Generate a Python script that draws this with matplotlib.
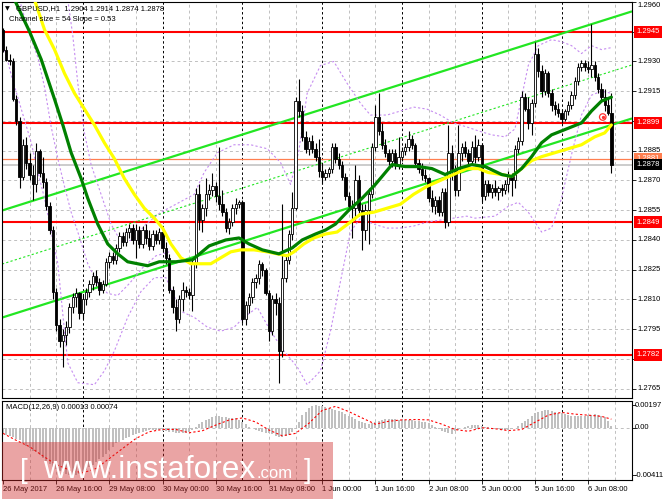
import numpy as np
import matplotlib
matplotlib.use("Agg")
import matplotlib.pyplot as plt
import matplotlib.transforms as mtrans
from matplotlib.patches import Rectangle

# ---------------- data ----------------
symbol_title = "GBPUSD,H1"
ohlc_title = ["1.2904", "1.2914", "1.2874", "1.2878"]
channel_title = "Channel size = 54 Slope = 0.53"
macd_title = "MACD(12,26,9) 0.00013 0.00074"

open_ = [1.2946, 1.2936, 1.2931, 1.2930, 1.2911, 1.2900, 1.2872, 1.2888, 1.2879, 1.2873,
         1.2868, 1.2885, 1.2874, 1.2869, 1.2857, 1.2845, 1.2814, 1.2797, 1.2789, 1.2792,
         1.2796, 1.2806, 1.2811, 1.2813, 1.2803, 1.2810, 1.2814, 1.2818, 1.2822, 1.2819,
         1.2815, 1.2818, 1.2829, 1.2832, 1.2830, 1.2836, 1.2842, 1.2839, 1.2844, 1.2846,
         1.2840, 1.2845, 1.2838, 1.2845, 1.2841, 1.2837, 1.2843, 1.2840, 1.2844, 1.2836,
         1.2831, 1.2815, 1.2806, 1.2800, 1.2810, 1.2815, 1.2814, 1.2812, 1.2828, 1.2863,
         1.2850, 1.2856, 1.2863, 1.2865, 1.2867, 1.2862, 1.2858, 1.2854, 1.2846, 1.2849,
         1.2856, 1.2858, 1.2859, 1.2800, 1.2807, 1.2811, 1.2819, 1.2821, 1.2828, 1.2825,
         1.2813, 1.2794, 1.2810, 1.2808, 1.2784, 1.2821, 1.2830, 1.2843, 1.2856, 1.2910,
         1.2905, 1.2892, 1.2886, 1.2890, 1.2886, 1.2882, 1.2875, 1.2872, 1.2874, 1.2876,
         1.2887, 1.2881, 1.2878, 1.2872, 1.2862, 1.2857, 1.2856, 1.2870, 1.2855, 1.2845,
         1.2855, 1.2863, 1.2887, 1.2902, 1.2895, 1.2888, 1.2884, 1.2880, 1.2884, 1.2878,
         1.2882, 1.2885, 1.2887, 1.2891, 1.2888, 1.2879, 1.2876, 1.2873, 1.2871, 1.2861,
         1.2857, 1.2860, 1.2854, 1.2864, 1.2849, 1.2884, 1.2876, 1.2865, 1.2884, 1.2887,
         1.2884, 1.2880, 1.2887, 1.2882, 1.2888, 1.2862, 1.2868, 1.2864, 1.2866, 1.2864,
         1.2866, 1.2865, 1.2868, 1.2873, 1.2870, 1.2886, 1.2890, 1.2912, 1.2906, 1.2899,
         1.2909, 1.2934, 1.2925, 1.2915, 1.2924, 1.2914, 1.2908, 1.2906, 1.2904, 1.2901,
         1.2905, 1.2908, 1.2913, 1.2920, 1.2927, 1.2929, 1.2927, 1.2926, 1.2928, 1.2922,
         1.2916, 1.2912, 1.2908, 1.2904]

high = [1.2947, 1.2938, 1.2934, 1.2932, 1.2913, 1.2902, 1.2891, 1.2892, 1.2884, 1.2878,
        1.2889, 1.2886, 1.2882, 1.2871, 1.2859, 1.2847, 1.2816, 1.2800, 1.2795, 1.2799,
        1.2808, 1.2813, 1.2816, 1.2814, 1.2812, 1.2816, 1.2820, 1.2824, 1.2825, 1.2821,
        1.2820, 1.2831, 1.2834, 1.2834, 1.2838, 1.2844, 1.2844, 1.2846, 1.2848, 1.2848,
        1.2848, 1.2847, 1.2847, 1.2848, 1.2845, 1.2845, 1.2845, 1.2846, 1.2845, 1.2839,
        1.2833, 1.2817, 1.2810, 1.2812, 1.2819, 1.2817, 1.2816, 1.2830, 1.2866, 1.2868,
        1.2858, 1.2871, 1.2868, 1.2874, 1.2869, 1.2887, 1.2865, 1.2856, 1.2851, 1.2858,
        1.2861, 1.2860, 1.2860, 1.2809, 1.2813, 1.2821, 1.2823, 1.2830, 1.2829, 1.2826,
        1.2815, 1.2812, 1.2813, 1.2811, 1.2858, 1.2833, 1.2845, 1.2864, 1.2912, 1.2921,
        1.2908, 1.2895, 1.2892, 1.2893, 1.2889, 1.2891, 1.2879, 1.2876, 1.2877, 1.2889,
        1.2889, 1.2884, 1.2880, 1.2874, 1.2864, 1.2860, 1.2878, 1.2873, 1.2858, 1.2858,
        1.2866, 1.2889, 1.2908, 1.2914, 1.2899, 1.2891, 1.2886, 1.2886, 1.2886, 1.2892,
        1.2887, 1.2889, 1.2895, 1.2893, 1.2889, 1.2881, 1.2879, 1.2876, 1.2872, 1.2865,
        1.2862, 1.2862, 1.2866, 1.2866, 1.2898, 1.2888, 1.2878, 1.2898, 1.2889, 1.2890,
        1.2886, 1.2890, 1.2893, 1.2891, 1.2889, 1.2870, 1.2870, 1.2868, 1.2870, 1.2867,
        1.2868, 1.2870, 1.2875, 1.2874, 1.2888, 1.2892, 1.2915, 1.2914, 1.2912, 1.2911,
        1.2940, 1.2937, 1.2928, 1.2926, 1.2925, 1.2916, 1.2910, 1.2909, 1.2906, 1.2906,
        1.2910, 1.2915, 1.2922, 1.2929, 1.2931, 1.2931, 1.2930, 1.2949, 1.2930, 1.2924,
        1.2919, 1.2916, 1.2912, 1.2914]

low = [1.2935, 1.2930, 1.2928, 1.2910, 1.2898, 1.2866, 1.2870, 1.2876, 1.2870, 1.2860,
       1.2864, 1.2872, 1.2866, 1.2855, 1.2843, 1.2810, 1.2794, 1.2786, 1.2776, 1.2787,
       1.2793, 1.2803, 1.2806, 1.2800, 1.2800, 1.2807, 1.2811, 1.2815, 1.2817, 1.2812,
       1.2813, 1.2817, 1.2826, 1.2828, 1.2828, 1.2834, 1.2837, 1.2837, 1.2841, 1.2838,
       1.2831, 1.2836, 1.2836, 1.2838, 1.2835, 1.2835, 1.2838, 1.2838, 1.2834, 1.2828,
       1.2813, 1.2803, 1.2794, 1.2798, 1.2804, 1.2811, 1.2810, 1.2804, 1.2826, 1.2845,
       1.2844, 1.2852, 1.2860, 1.2862, 1.2859, 1.2855, 1.2852, 1.2844, 1.2843, 1.2847,
       1.2853, 1.2856, 1.2798, 1.2797, 1.2803, 1.2808, 1.2816, 1.2818, 1.2822, 1.2812,
       1.2789, 1.2792, 1.2802, 1.2768, 1.2781, 1.2819, 1.2828, 1.2840, 1.2855, 1.2902,
       1.2890, 1.2884, 1.2883, 1.2884, 1.2880, 1.2872, 1.2868, 1.2870, 1.2872, 1.2874,
       1.2879, 1.2876, 1.2870, 1.2860, 1.2855, 1.2841, 1.2850, 1.2852, 1.2835, 1.2840,
       1.2838, 1.2861, 1.2885, 1.2893, 1.2886, 1.2882, 1.2878, 1.2877, 1.2876, 1.2876,
       1.2880, 1.2883, 1.2885, 1.2886, 1.2877, 1.2874, 1.2870, 1.2869, 1.2859, 1.2854,
       1.2853, 1.2852, 1.2852, 1.2846, 1.2847, 1.2870, 1.2862, 1.2862, 1.2880, 1.2882,
       1.2878, 1.2878, 1.2879, 1.2880, 1.2859, 1.2860, 1.2862, 1.2861, 1.2862, 1.2860,
       1.2862, 1.2863, 1.2864, 1.2862, 1.2866, 1.2884, 1.2888, 1.2905, 1.2896, 1.2893,
       1.2907, 1.2922, 1.2912, 1.2913, 1.2912, 1.2905, 1.2903, 1.2902, 1.2899, 1.2900,
       1.2903, 1.2906, 1.2911, 1.2918, 1.2925, 1.2925, 1.2924, 1.2922, 1.2920, 1.2914,
       1.2910, 1.2905, 1.2903, 1.2874]

close = [1.2936, 1.2931, 1.2930, 1.2911, 1.2900, 1.2872, 1.2888, 1.2879, 1.2873, 1.2868,
         1.2885, 1.2874, 1.2869, 1.2857, 1.2845, 1.2814, 1.2797, 1.2789, 1.2792, 1.2796,
         1.2806, 1.2811, 1.2813, 1.2803, 1.2810, 1.2814, 1.2818, 1.2822, 1.2819, 1.2815,
         1.2818, 1.2829, 1.2832, 1.2830, 1.2836, 1.2842, 1.2839, 1.2844, 1.2846, 1.2840,
         1.2845, 1.2838, 1.2845, 1.2841, 1.2837, 1.2843, 1.2840, 1.2844, 1.2836, 1.2831,
         1.2815, 1.2806, 1.2800, 1.2810, 1.2815, 1.2814, 1.2812, 1.2828, 1.2863, 1.2850,
         1.2856, 1.2863, 1.2865, 1.2867, 1.2862, 1.2858, 1.2854, 1.2846, 1.2849, 1.2856,
         1.2858, 1.2859, 1.2800, 1.2807, 1.2811, 1.2819, 1.2821, 1.2828, 1.2825, 1.2813,
         1.2794, 1.2810, 1.2808, 1.2784, 1.2821, 1.2830, 1.2843, 1.2856, 1.2910, 1.2905,
         1.2892, 1.2886, 1.2890, 1.2886, 1.2882, 1.2875, 1.2872, 1.2874, 1.2876, 1.2887,
         1.2881, 1.2878, 1.2872, 1.2862, 1.2857, 1.2856, 1.2870, 1.2855, 1.2845, 1.2855,
         1.2863, 1.2887, 1.2902, 1.2895, 1.2888, 1.2884, 1.2880, 1.2884, 1.2878, 1.2882,
         1.2885, 1.2887, 1.2891, 1.2888, 1.2879, 1.2876, 1.2873, 1.2871, 1.2861, 1.2857,
         1.2860, 1.2854, 1.2864, 1.2849, 1.2884, 1.2876, 1.2865, 1.2884, 1.2887, 1.2884,
         1.2880, 1.2887, 1.2882, 1.2888, 1.2862, 1.2868, 1.2864, 1.2866, 1.2864, 1.2866,
         1.2865, 1.2868, 1.2873, 1.2870, 1.2886, 1.2890, 1.2912, 1.2906, 1.2899, 1.2909,
         1.2934, 1.2925, 1.2915, 1.2924, 1.2914, 1.2908, 1.2906, 1.2904, 1.2901, 1.2905,
         1.2908, 1.2913, 1.2920, 1.2927, 1.2929, 1.2927, 1.2926, 1.2928, 1.2922, 1.2916,
         1.2912, 1.2908, 1.2904, 1.2878]

# moving averages (bar position, value)
ma_fast_x = [3.5, 8, 11.5, 15.5, 18, 20.5, 23.5, 25.5, 28.5, 31.5, 34.5, 37.5, 40.5, 43.5, 47,
             52, 57, 62, 67, 71, 74, 78, 83, 87, 90, 94, 97, 100, 104, 108, 112, 115, 117,
             121, 125, 129, 133, 137, 141, 145, 150, 153, 156, 159, 162, 165, 168, 171, 174,
             177, 180, 183]
ma_fast_y = [1.2961, 1.2945, 1.2931, 1.2911, 1.2898, 1.2884, 1.2871, 1.2861, 1.2848, 1.2838,
             1.2833, 1.2829, 1.2828, 1.2827, 1.2829, 1.2829, 1.2830, 1.2837, 1.2840, 1.2841,
             1.2838, 1.2835, 1.2833, 1.2836, 1.2840, 1.2843, 1.2845, 1.2848, 1.2855, 1.2861,
             1.2868, 1.2874, 1.2878, 1.2877, 1.2877, 1.2876, 1.2873, 1.2876, 1.2878, 1.2877,
             1.2873, 1.2872, 1.2876, 1.2882, 1.2889, 1.2893, 1.2895, 1.2897, 1.2899, 1.2905,
             1.2910, 1.2912]
ma_slow_x = [9.5, 12.5, 15.5, 18.5, 21.5, 24.5, 27.5, 30.5, 33.5, 36.5, 39.5, 42.5, 45.5, 48,
             50.5, 53.5, 56.5, 59.5, 62.5, 65.5, 68.5, 71.5, 75.5, 79.5, 82.5, 85.5, 87.5, 90.5,
             93.5, 97, 100.5, 104.5, 107.5, 111.5, 115.5, 119.5, 123.5, 127.5, 131.5, 135.5,
             139.5, 143, 146, 150, 153, 156, 159, 162, 166, 170, 174, 178, 181, 183]
ma_slow_y = [1.2961, 1.2946, 1.2936, 1.2924, 1.2914, 1.2906, 1.2898, 1.2889, 1.2881, 1.2871,
             1.2863, 1.2856, 1.2851, 1.2846, 1.2838, 1.2831, 1.2828, 1.2828, 1.2828, 1.2831,
             1.2834, 1.2835, 1.2835, 1.2834, 1.2833, 1.2832, 1.2834, 1.2838, 1.2841, 1.2843,
             1.2844, 1.2849, 1.2853, 1.2854, 1.2856, 1.2858, 1.2863, 1.2867, 1.2870, 1.2873,
             1.2876, 1.2876, 1.2874, 1.2873, 1.2872, 1.2876, 1.2880, 1.2882, 1.2884, 1.2886,
             1.2888, 1.2892, 1.2894, 1.2898]

# Bollinger bands (purple dotted)
bb_up_x = [19.5, 21, 22.5, 24.5, 26.5, 28.5, 30.5, 32.5, 35.5, 39, 43, 47.5, 52, 57.5, 60.5,
           64.5, 69.5, 74.5, 79.5, 83.5, 86.5, 89, 91.5, 95.5, 99.5, 103.5, 107.5, 110.5,
           115.5, 119.5, 123.5, 127.5, 131.5, 135.5, 139.5, 143, 147, 151, 154, 156, 158,
           161, 165, 168, 171, 174, 177, 180, 183]
bb_up_y = [1.2961, 1.2943, 1.2919, 1.2894, 1.2878, 1.2868, 1.2858, 1.2848, 1.2839, 1.2840,
           1.2848, 1.2854, 1.2858, 1.2863, 1.2874, 1.2884, 1.2888, 1.2888, 1.2886, 1.2879,
           1.2868, 1.2885, 1.2914, 1.2928, 1.2930, 1.2919, 1.2909, 1.2903, 1.2903, 1.2905,
           1.2907, 1.2906, 1.2903, 1.2899, 1.2897, 1.2895, 1.2893, 1.2892, 1.2896, 1.2912,
           1.2928, 1.2938, 1.2941, 1.2940, 1.2938, 1.2934, 1.2938, 1.2936, 1.2937]
bb_mid_x = [5, 7.5, 10.5, 12.5, 14.5, 16.5, 18.5, 20.5, 22.5, 25.5, 28.5, 31.5, 34.5, 38, 42,
            46, 50]
bb_mid_y = [1.2961, 1.2946, 1.2932, 1.2917, 1.2897, 1.2881, 1.2867, 1.2854, 1.2844, 1.2828,
            1.2818, 1.2813, 1.2812, 1.2818, 1.2826, 1.2832, 1.2834]
bb_lo_x = [0, 1, 2.5, 5.5, 8.5, 10.5, 12.5, 14.5, 16.5, 17.5, 18.5, 19.5, 22.5, 27.5, 30.5,
           33.5, 37.5, 41.5, 45.5, 49, 53.5, 57.5, 61.5, 65.5, 69.5, 72.5, 76.5, 80.5, 84.5,
           88.5, 91.5, 95.5, 98.5, 101.5, 104.5, 107.5, 111.5, 115.5, 119.5, 123.5, 127.5,
           131.5, 135.5, 139.5, 142, 148, 152, 155, 158, 162, 165, 168, 171, 174, 177, 180, 183]
bb_lo_y = [1.2938, 1.2933, 1.2923, 1.2906, 1.2889, 1.2874, 1.2861, 1.2844, 1.2828, 1.2811,
           1.2794, 1.2778, 1.2768, 1.2767, 1.2774, 1.2784, 1.2801, 1.2814, 1.2821, 1.2821,
           1.2804, 1.2801, 1.2796, 1.2794, 1.2796, 1.2801, 1.2806, 1.2794, 1.2784, 1.2776,
           1.2767, 1.2774, 1.2794, 1.2819, 1.2844, 1.2851, 1.2848, 1.2846, 1.2846, 1.2847,
           1.2849, 1.2850, 1.2851, 1.2852, 1.2851, 1.2852, 1.2857, 1.2859, 1.2854, 1.2844,
           1.2846, 1.2861, 1.2883, 1.2903, 1.2913, 1.2915, 1.2914]

# regression channel
chan_upper_start = 1.2855   # upper line at bar 0
chan_slope = 0.000053       # per bar
chan_size = 0.0054

# horizontal levels
red_levels = [1.2945, 1.2899, 1.2849, 1.2782]
ask_price = 1.2881
bid_price = 1.2878
price_grid = [1.2960, 1.2945, 1.2930, 1.2915, 1.2900, 1.2885, 1.2870, 1.2855,
              1.2840, 1.2825, 1.2810, 1.2795, 1.2780, 1.2765]
price_labels_shown = [1.2960, 1.2930, 1.2915, 1.2885, 1.2870, 1.2855,
                      1.2840, 1.2825, 1.2810, 1.2795, 1.2765]
alert_x = [180.4]
alert_y = [1.2902]

# MACD (units of 1e-5)
macd_hist = [-50, -60, -70, -80, -95, -107, -130, -155, -180, -200,
             -215, -240, -265, -290, -315, -340, -362, -380, -395, -405,
             -410, -411, -408, -398, -383, -365, -345, -320, -295, -272,
             -252, -225, -195, -165, -136, -120, -105, -92, -78, -65,
             -55, -45, -35, -28, -22, -20, -20, -22, -25, -30,
             -35, -40, -45, -49, -49, -45, -35, -20, 5, 30,
             52, 65, 80, 96, 100, 98, 96, 92, 88, 85,
             81, 68, 52, 30, 9, -5, -20, -30, -40, -45,
             -49, -58, -68, -78, -80, -72, -64, -40, -6, 50,
             110, 140, 168, 185, 197, 192, 186, 180, 167, 160,
             155, 148, 140, 122, 105, 90, 78, 62, 47, 38,
             31, 38, 47, 60, 71, 75, 78, 75, 72, 70,
             68, 66, 65, 63, 62, 58, 53, 47, 40, 22,
             6, -10, -25, -38, -50, -56, -31, -18, -6, 5,
             15, 20, 25, 20, 15, 10, 6, 0, -6, -11,
             -16, -16, -16, -8, 0, 18, 37, 58, 78, 100,
             124, 135, 143, 150, 155, 148, 140, 132, 124, 116,
             109, 104, 99, 99, 99, 104, 109, 112, 115, 110,
             105, 93, 62, 13]
sig_x = [0, 4, 8, 12, 16, 20, 24, 28, 32, 36, 40, 44, 48, 52, 56, 60, 64, 68, 72, 76, 80, 84,
         88, 92, 96, 100, 104, 108, 112, 116, 120, 124, 128, 132, 136, 140, 144, 148, 152,
         156, 160, 164, 168, 172, 176, 180, 183]
sig_y = [-49, -110, -165, -245, -320, -368, -392, -354, -267, -180, -93, -35, -15, -15, -44,
         -26, 23, 67, 85, 50, -20, -70, -49, 38, 150, 185, 140, 85, 31, 56, 68, 71, 68, 31,
         -16, -31, 0, -9, -25, -16, 47, 109, 133, 118, 109, 99, 74]
macd_levels = [0.00197, 0.0, -0.00411]
macd_level_labels = ["0.00197", "0.00", "-0.00411"]

time_ticks = [0, 16, 32, 48, 64, 80, 96, 112, 128, 144, 160, 176]
time_labels = ["26 May 2017", "26 May 16:00", "29 May 08:00", "30 May 00:00",
               "30 May 16:00", "31 May 08:00", "1 Jun 00:00", "1 Jun 16:00",
               "2 Jun 08:00", "5 Jun 00:00", "5 Jun 16:00", "6 Jun 08:00"]
day_separators = [24, 48, 72, 96, 120, 144, 168]

# ---------------- figure ----------------
W, H = 665, 499
fig = plt.figure(figsize=(W / 100, H / 100), dpi=100)
fig.patch.set_facecolor("white")
FONT = ["Liberation Sans", "DejaVu Sans"]
FS = 5.5


def fx(px):
    return px / W


def fy(py):
    return 1 - py / H


ax = fig.add_axes([fx(2), fy(398), 630 / W, 396 / H])
ax2 = fig.add_axes([fx(2), fy(480), 630 / W, 79 / H])

XL = (-0.3, 189.2)
for a in (ax, ax2):
    a.set_xlim(*XL)
    a.set_facecolor("white")
    for s in a.spines.values():
        s.set_color("black")
        s.set_linewidth(0.8)
ax.set_ylim(1.27603, 1.29600)
ax2.set_ylim(-0.00454, 0.00232)

GRID_C = "#c0c0c0"
n = len(close)
idx = np.arange(n)

# vertical grid + separators
for a in (ax, ax2):
    for b in range(8, 190, 8):
        if b in day_separators:
            a.axvline(b, color="black", lw=0.7, ls=(0, (2.5, 2.5)), zorder=0.6)
        else:
            a.axvline(b, color=GRID_C, lw=0.7, ls=(0, (3, 3)), zorder=0.5)
for lv in price_grid:
    ax.axhline(lv, color=GRID_C, lw=0.7, ls=(0, (3, 3)), zorder=0.5)
ax2.axhline(0, color=GRID_C, lw=0.7, ls=(0, (3, 3)), zorder=0.5)

# bid / ask lines and red levels
ax.axhline(bid_price, color="#c8c8c8", lw=1.3, zorder=1)
ax.axhline(ask_price, color="#ff7f50", lw=0.9, zorder=1.1)
for lv in red_levels:
    ax.axhline(lv, color="#ff0000", lw=1.5, zorder=1.5)

# regression channel
cx = np.array(XL)
up_line = chan_upper_start + chan_slope * cx
lo_line = up_line - chan_size
ax.plot(cx, up_line, color="#22e622", lw=1.6, zorder=2, solid_capstyle="butt")
ax.plot(cx, lo_line, color="#22e622", lw=1.6, zorder=2, solid_capstyle="butt")
ax.plot(cx, (up_line + lo_line) / 2, color="#22e622", lw=0.8, ls=(0, (2, 2)), zorder=2)

# Bollinger
BB_C = "#c58cf0"
for bx, by in ((bb_up_x, bb_up_y), (bb_mid_x, bb_mid_y), (bb_lo_x, bb_lo_y)):
    ax.plot(bx, by, color=BB_C, lw=0.8, ls=(0, (2, 2)), zorder=2.5)

# candles
o = np.array(open_)
c = np.array(close)
hi = np.array(high)
lo = np.array(low)
bull = c >= o
ax.vlines(idx, lo, hi, color="black", lw=0.8, zorder=3)
body_lo = np.minimum(o, c)
body_h = np.maximum(np.abs(c - o), 0.00003)
ax.bar(idx[bull], body_h[bull], bottom=body_lo[bull], width=0.7, color="white",
       edgecolor="black", linewidth=0.6, zorder=4)
ax.bar(idx[~bull], body_h[~bull], bottom=body_lo[~bull], width=0.7, color="black",
       edgecolor="black", linewidth=0.6, zorder=4)

# moving averages
ax.plot(ma_slow_x, ma_slow_y, color="#ffff00", lw=2.3, zorder=5, solid_capstyle="round")
ax.plot(ma_fast_x, ma_fast_y, color="#008000", lw=2.3, zorder=5.1, solid_capstyle="round")

# alert marker
ax.scatter(alert_x, alert_y, s=22, facecolors="none", edgecolors="#ff3030", linewidths=0.9,
           zorder=6)
ax.scatter(alert_x, alert_y, s=2, color="#ff3030", zorder=6)

# ticks
for a in (ax, ax2):
    a.yaxis.tick_right()
    a.tick_params(axis="y", length=3, width=0.6, labelright=False, labelleft=False)
ax.set_yticks(price_grid)
ax2.set_yticks(macd_levels)
ax.set_xticks([])
ax2.set_xticks(time_ticks)
ax2.tick_params(axis="x", length=3, width=0.6, labelbottom=False)

# right-axis labels (main)
tr = mtrans.blended_transform_factory(fig.transFigure, ax.transData)
for lv in price_labels_shown:
    va = "top" if lv == price_grid[0] else "center"
    ax.text(fx(637), lv, f"{lv:.4f}", transform=tr, fontsize=FS, family=FONT,
            va=va, ha="left", clip_on=False, zorder=10)


def box_label(value, fc, tc="white", z=11):
    ax.text(fx(636), value, f"{value:.4f}", transform=tr, fontsize=FS, family=FONT,
            va="center", ha="left", color=tc, clip_on=False, zorder=z,
            bbox=dict(boxstyle="square,pad=0.3", fc=fc, ec="none"))


for lv in red_levels:
    box_label(lv, "#ff0000")
box_label(ask_price, "#ff7f50", z=11)
box_label(bid_price, "#000000", z=12)

# right-axis labels (MACD)
tr2 = mtrans.blended_transform_factory(fig.transFigure, ax2.transData)
for lv, lab in zip(macd_levels, macd_level_labels):
    ax2.text(fx(635), lv, lab, transform=tr2, fontsize=FS, family=FONT, va="center",
             ha="left", clip_on=False)

# time labels
trx = mtrans.blended_transform_factory(ax2.transData, fig.transFigure)
for t, lab in zip(time_ticks, time_labels):
    ax2.text(t, fy(489.5), lab, transform=trx, fontsize=FS, family=FONT, va="center",
             ha="left", clip_on=False)

# MACD histogram + signal
mh = np.array(macd_hist) * 1e-5
ax2.bar(idx, mh, width=0.6, color="#c0c0c0", zorder=2)
ax2.plot(sig_x, np.array(sig_y) * 1e-5, color="#ff0000", lw=0.8, ls=(0, (2, 2)), zorder=3)

# titles
fig.text(fx(5), fy(8.3), "\u25BC", fontsize=4.5, family="DejaVu Sans", va="center",
         ha="left")
fig.text(fx(16), fy(8.3), symbol_title + "  " + " ".join(ohlc_title), fontsize=FS,
         family=FONT, va="center", ha="left")
fig.text(fx(9), fy(19.5), channel_title, fontsize=FS, family=FONT, va="center", ha="left")
fig.text(fx(6), fy(407.5), macd_title, fontsize=FS, family=FONT, va="center", ha="left")

# watermark
fig.patches.append(Rectangle((fx(2), 0), fx(331), 57 / H, transform=fig.transFigure,
                             facecolor=(207 / 255, 40 / 255, 40 / 255), alpha=0.42,
                             edgecolor="none", zorder=20))
WF = ["Liberation Sans", "DejaVu Sans"]
fig.text(fx(20), fy(478), "[", fontsize=20, family=WF, color="white", va="baseline",
         ha="left", zorder=21)
fig.text(fx(43), fy(478), "www.instaforex", fontsize=22.7, family=WF, color="white",
         va="baseline", ha="left", zorder=21)
fig.text(fx(256), fy(478), ".com", fontsize=12, family=WF, color="white",
         va="baseline", ha="left", zorder=21)
fig.text(fx(304), fy(478), "]", fontsize=20, family=WF, color="white", va="baseline",
         ha="left", zorder=21)

fig.savefig("out.png", dpi=100, facecolor="white")
